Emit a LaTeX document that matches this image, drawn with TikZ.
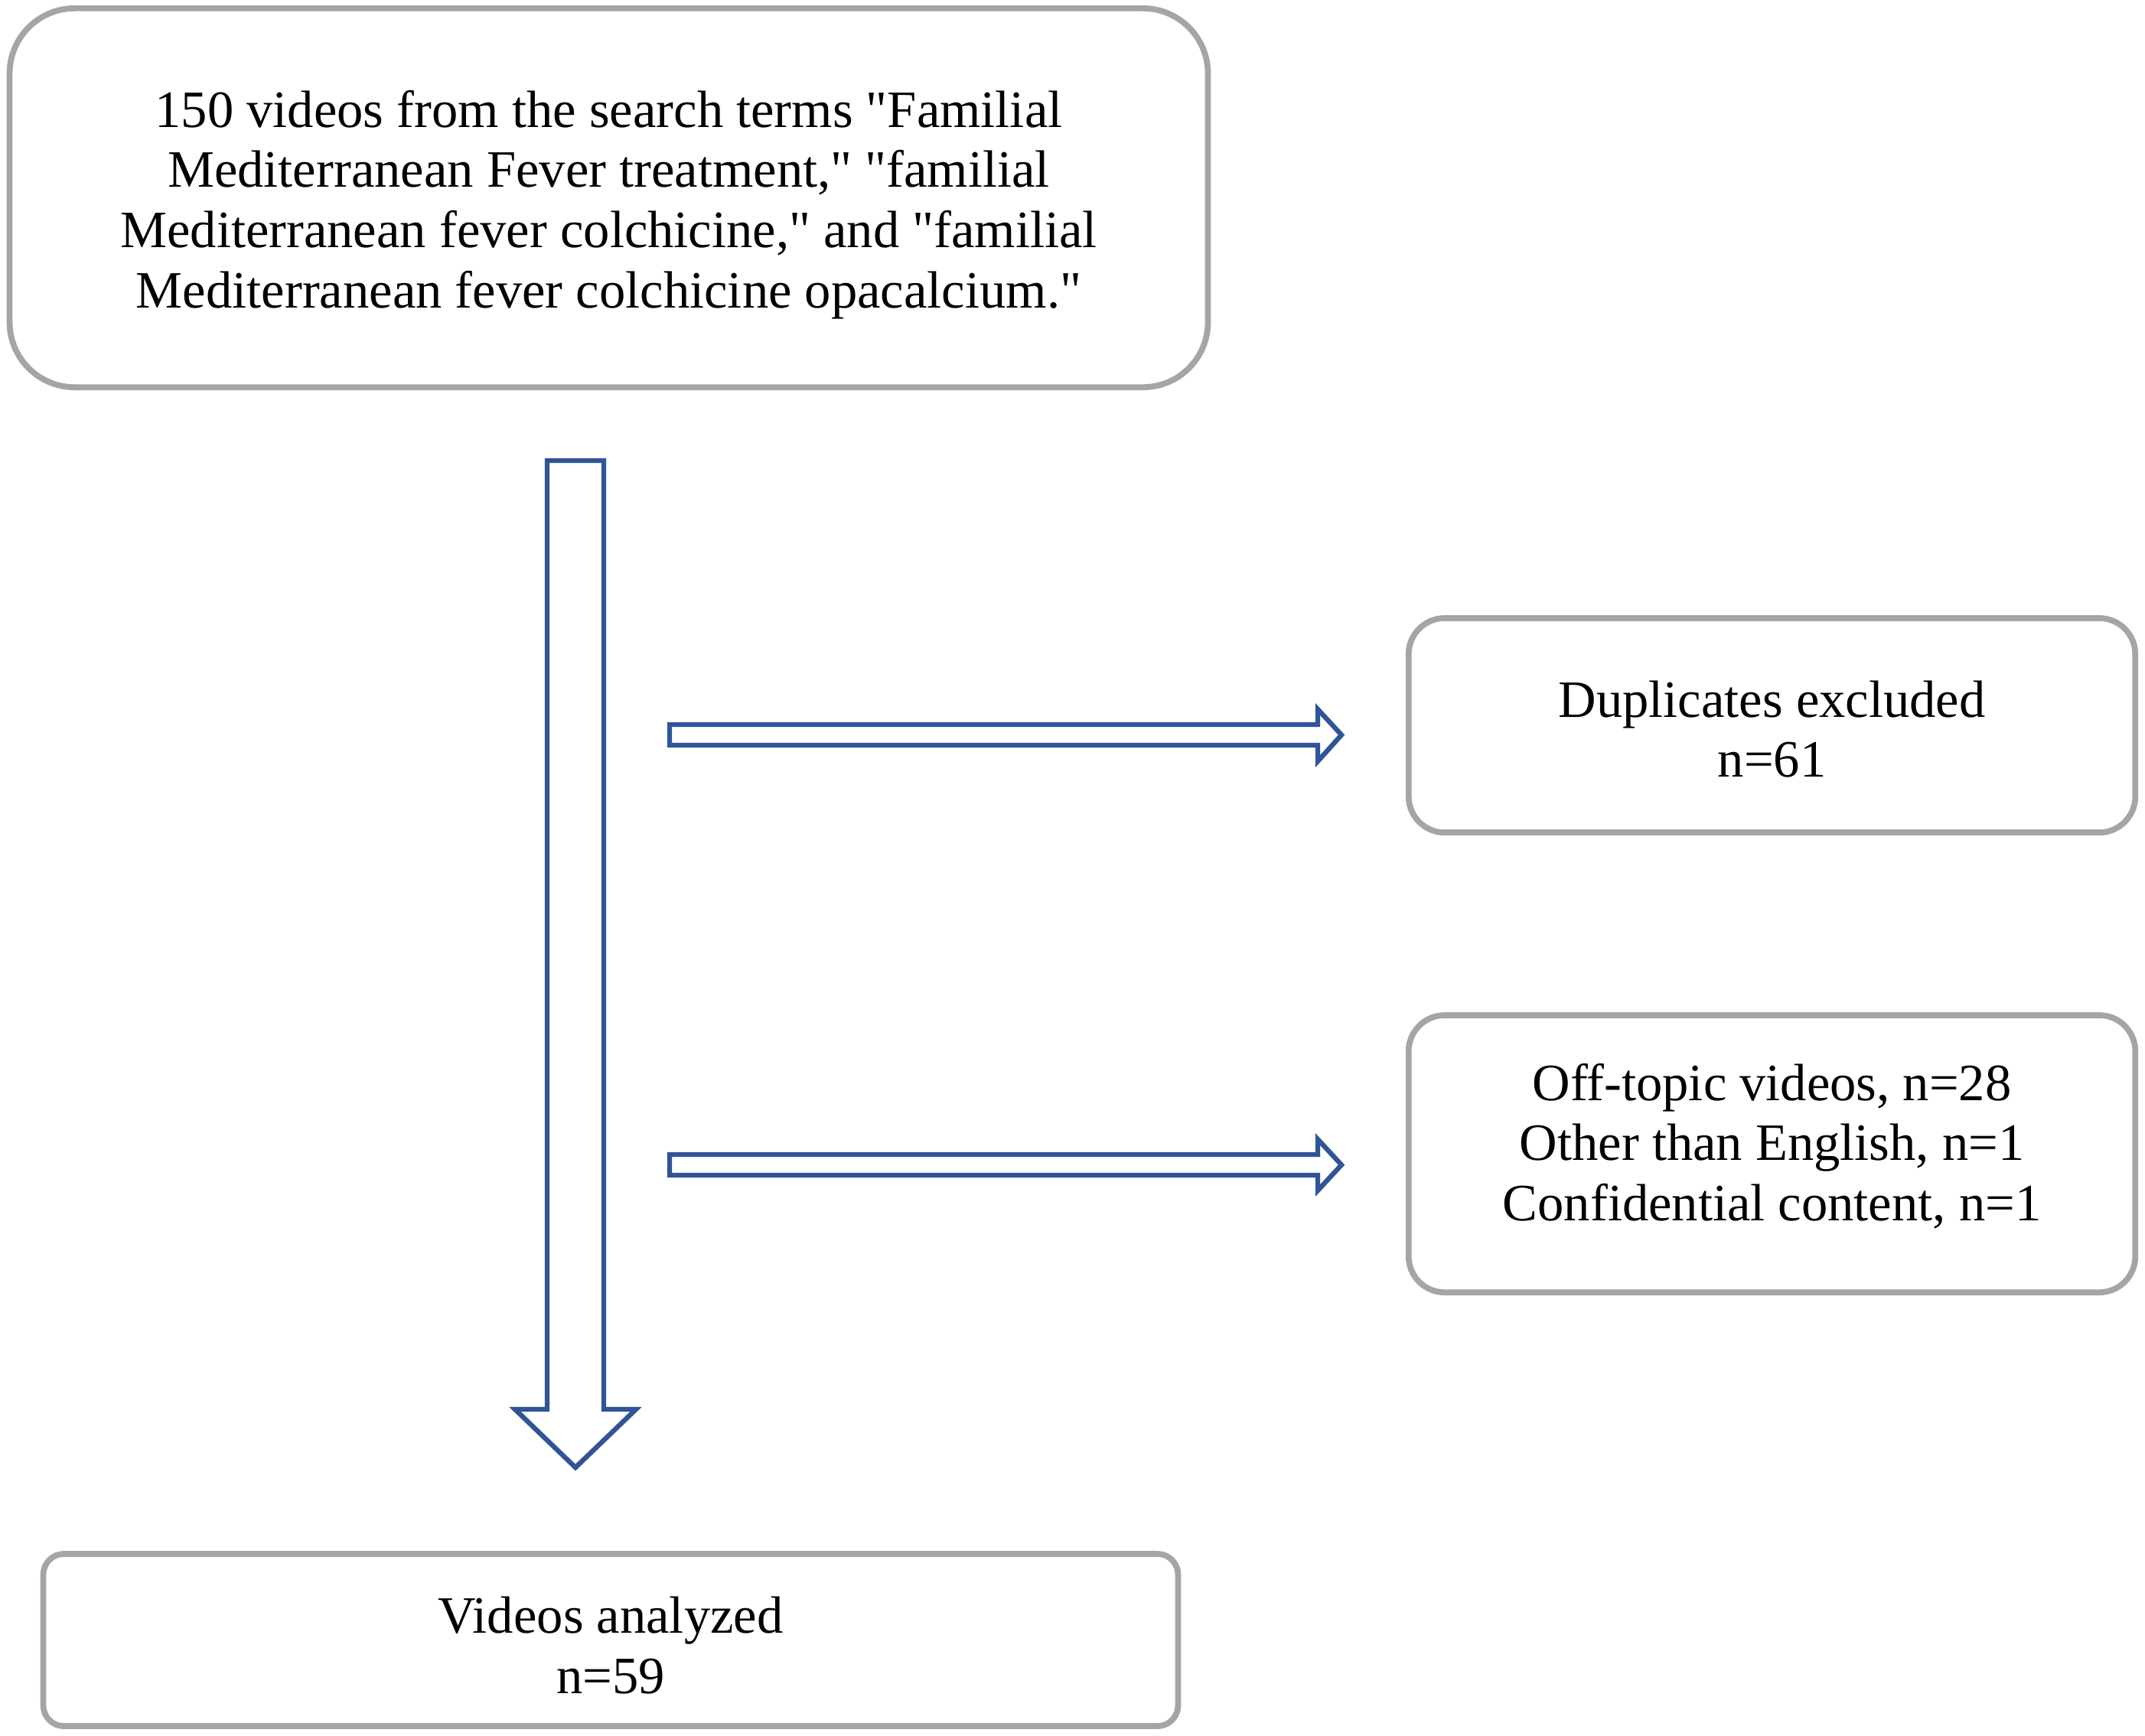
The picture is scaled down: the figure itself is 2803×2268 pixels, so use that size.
\documentclass[tikz,border=0pt]{standalone}
\usepackage{fontspec}
\setmainfont{Liberation Serif}[Ligatures=TeXOff]
\begin{document}
\begin{tikzpicture}[x=0.01cm,y=-0.01cm,
  box/.style={draw=boxgray, line width=2.2pt, fill=white, inner sep=0pt},
  txt/.style={align=center, font=\fontsize{19.5}{22.4}\selectfont, inner sep=0pt},
  blockarrow/.style={draw=arrowblue, line width=1.8pt, fill=white, line join=miter}]
\definecolor{boxgray}{HTML}{A5A5A5}
\definecolor{arrowblue}{HTML}{2F5597}
\useasboundingbox (0,0) rectangle (2803,2268);
% boxes
\node[box, rounded corners=0.85cm, minimum width=15.65cm, minimum height=4.95cm] (search) at (795.5,258.5) {};
\node[txt] (searchtext) at ([yshift=-0.09cm]search.center)
  {150 videos from the search terms "Familial\\Mediterranean Fever treatment," "familial\\Mediterranean fever colchicine," and "familial\\Mediterranean fever colchicine opacalcium."};
\node[box, rounded corners=0.47cm, minimum width=9.49cm, minimum height=2.80cm] (dup) at (2315.5,948) {};
\node[txt] (duptext) at ([yshift=-0.05cm]dup.center) {Duplicates excluded\\n=61};
\node[box, rounded corners=0.47cm, minimum width=9.49cm, minimum height=3.62cm] (off) at (2315.5,1508) {};
\node[txt] (offtext) at ([yshift=0.1cm]off.center)
  {Off-topic videos, n=28\\Other than English, n=1\\Confidential content, n=1};
\node[box, rounded corners=0.27cm, minimum width=14.82cm, minimum height=2.25cm] (analyzed) at (798,2143.5) {};
\node[txt] (analyzedtext) at ([yshift=-0.07cm]analyzed.center) {Videos analyzed\\n=59};
% block arrows
\draw[blockarrow] (715,602) -- (789,602) -- (789,1842) -- (831,1842) -- (752,1918)
  -- (673,1842) -- (715,1842) -- cycle;
\draw[blockarrow] (875,947) -- (1722,947) -- (1722,927) -- (1753,960.5) -- (1722,995)
  -- (1722,974) -- (875,974) -- cycle;
\draw[blockarrow] (875,1509) -- (1722,1509) -- (1722,1489) -- (1753,1522.5) -- (1722,1556)
  -- (1722,1536) -- (875,1536) -- cycle;
\end{tikzpicture}
\end{document}
